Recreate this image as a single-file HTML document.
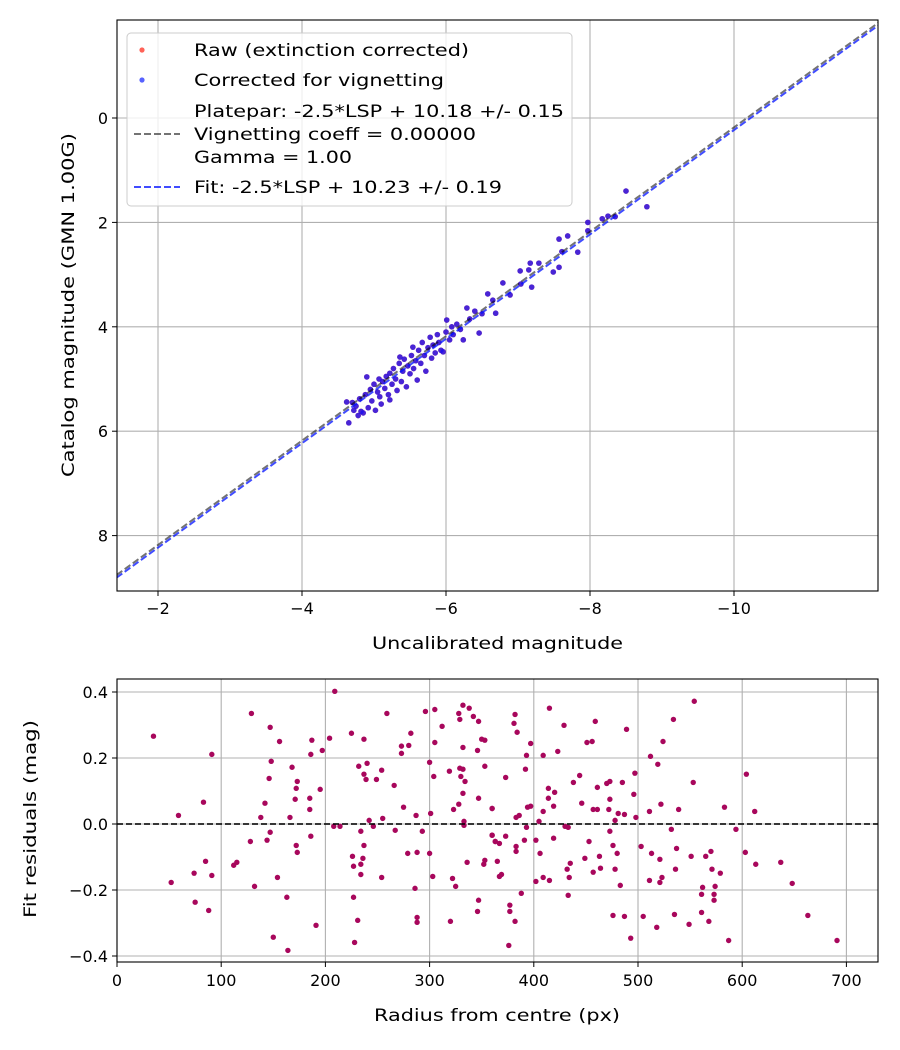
<!DOCTYPE html>
<html><head><meta charset="utf-8"><style>
body{margin:0;background:#fff}
svg{display:block;font-family:"DejaVu Sans","Liberation Sans",sans-serif}
</style></head><body>
<svg id="fig" width="900" height="1050" xmlns="http://www.w3.org/2000/svg">
<rect width="900" height="1050" fill="#fff"/>
<g id="top"></g>
<g id="bot"></g>
</svg>
<script>
const topX=[-4.62,-4.65,-4.70,-4.72,-4.75,-4.78,-4.80,-4.82,-4.85,-4.88,-4.90,-4.92,-4.95,-4.97,-5.00,-5.02,-5.05,-5.07,-5.08,-5.10,-5.12,-5.15,-5.17,-5.20,-5.22,-5.22,-5.25,-5.27,-5.30,-5.32,-5.35,-5.36,-5.38,-5.40,-5.42,-5.45,-5.47,-5.50,-5.52,-5.54,-5.55,-5.58,-5.60,-5.62,-5.65,-5.67,-5.70,-5.72,-5.75,-5.78,-5.80,-5.82,-5.85,-5.88,-5.90,-5.93,-5.96,-6.00,-6.01,-6.05,-6.08,-6.10,-6.15,-6.20,-6.24,-6.29,-6.33,-6.40,-6.46,-6.50,-6.58,-6.65,-6.69,-6.79,-6.89,-7.03,-7.04,-7.15,-7.17,-7.19,-7.29,-7.49,-7.57,-7.57,-7.61,-7.69,-7.83,-7.97,-7.97,-8.17,-8.25,-8.35,-8.50,-8.79];
const topY=[5.44,5.84,5.45,5.60,5.52,5.70,5.38,5.62,5.65,5.30,4.96,5.55,5.20,5.42,5.10,5.60,5.25,5.00,5.34,5.48,5.05,5.18,4.95,5.30,4.89,5.40,5.10,4.80,5.00,5.22,4.70,4.58,5.05,4.85,4.62,5.15,4.75,4.90,4.55,4.39,4.80,4.65,5.02,4.45,4.70,4.30,4.55,4.85,4.40,4.20,4.60,4.35,4.50,4.15,4.30,4.45,4.48,4.10,3.87,4.25,4.00,4.15,3.95,4.05,4.25,3.64,3.85,3.70,4.12,3.75,3.37,3.49,3.74,3.16,3.39,2.93,3.18,2.91,2.78,3.24,2.78,2.95,2.32,2.86,2.56,2.26,2.57,2.00,2.16,1.93,1.88,1.89,1.40,1.70];
const topXTicks=[-2,-4,-6,-8,-10];
const topYTicks=[0,2,4,6,8];
const plateparZP=10.18, fitZP=10.23;
const resR=[35,91,129,147,156,209,187,186,197,204,225,237,259,296,305,312,305,282,273,280,273,332,338,328,329,342,347,350,353,332,346,148,168,146,173,172,171,185,185,195,142,138,166,83,59,232,240,237,239,249,254,266,275,287,242,255,300,304,319,329,332,330,334,332,328,323,347,353,360,301,333,333,208,214,246,147,144,128,186,172,173,234,237,267,293,360,363,85,74,91,52,112,115,154,132,226,227,234,236,234,254,279,288,300,303,322,325,336,352,353,286,75,88,163,227,191,231,288,288,320,347,346,150,164,228,
382,381,384,415,397,393,409,423,429,459,451,456,489,534,554,524,512,519,373,392,438,444,414,420,414,419,409,394,397,360,383,386,405,461,470,473,485,473,446,457,461,472,481,487,478,496,497,498,511,522,539,553,583,604,612,393,430,433,532,594,473,360,373,363,367,391,402,419,383,383,406,453,476,480,463,449,503,513,521,537,551,565,570,603,613,637,365,367,369,435,432,434,409,402,415,457,464,478,483,511,521,523,536,571,579,562,574,561,573,573,648,388,433,377,377,382,376,476,487,505,518,535,549,561,568,493,587,663,691];
const resV=[.266,.211,.335,.293,.250,.402,.254,.211,.223,.260,.275,.257,.335,.341,.347,.296,.247,.275,.236,.238,.214,.360,.351,.335,.317,.326,.311,.257,.254,.232,.223,.190,.172,.138,.129,.108,.075,.078,.044,.105,.063,.020,.020,.066,.026,.175,.184,.151,.135,.135,.163,.117,.051,.026,.011,.017,.187,.144,.160,.169,.166,.144,.129,.093,.060,.044,.078,.175,.047,.032,.008,-.004,-.007,-.007,-.007,-.025,-.049,-.053,-.037,-.065,-.086,-.022,-.065,-.019,-.022,-.034,-.053,-.113,-.149,-.156,-.177,-.125,-.116,-.162,-.189,-.098,-.128,-.122,-.104,-.153,-.162,-.089,-.086,-.089,-.159,-.165,-.189,-.116,-.122,-.110,-.195,-.237,-.262,-.222,-.222,-.307,-.292,-.283,-.298,-.295,-.231,-.265,-.343,-.383,-.359,
.332,.305,.278,.351,.244,.208,.208,.220,.299,.311,.247,.250,.287,.317,.372,.250,.205,.181,.141,.166,.126,.147,.108,.096,.078,.054,.038,.051,.054,.047,.020,.026,.008,.111,.123,.129,.126,.075,.063,.044,.044,.044,.032,.029,.011,.090,.154,.020,.038,.060,.044,.126,.051,.151,.038,-.010,-.007,-.010,-.016,-.016,-.022,-.034,-.037,-.053,-.059,-.049,-.049,-.043,-.068,-.083,-.089,-.053,-.065,-.089,-.098,-.104,-.068,-.089,-.107,-.074,-.098,-.098,-.083,-.086,-.122,-.116,-.113,-.159,-.153,-.119,-.137,-.162,-.162,-.174,-.171,-.146,-.134,-.137,-.186,-.171,-.177,-.162,-.137,-.137,-.149,-.192,-.189,-.213,-.213,-.231,-.180,-.210,-.216,-.246,-.265,-.295,-.368,-.277,-.280,-.280,-.313,-.274,-.304,-.268,-.295,-.346,-.353,-.277,-.353];
const botXTicks=[0,100,200,300,400,500,600,700];
const botYTicks=[0.4,0.2,0.0,-0.2,-0.4];

const NS="http://www.w3.org/2000/svg";
function mk(parent,tag,attrs,name){const e=document.createElementNS(NS,tag);for(const k in attrs)e.setAttribute(k,attrs[k]);


parent.appendChild(e);return e;}
function fmt(v){return (v<0?'\u2212':'')+Math.abs(v);}
function label(parent,x,y,s,w,name,extra){const a={x:x,y:y,'font-size':17,textLength:w,lengthAdjust:'spacingAndGlyphs'};for(const k in (extra||{}))a[k]=extra[k];const t=mk(parent,'text',a,name);t.textContent=s;return t;}

const T={l:117,r:878,t:20,b:591};
const tx=v=>14-72*v;
const ty=v=>118+52.2*v;
const g=document.getElementById('top');
topXTicks.forEach(v=>{mk(g,'line',{x1:tx(v),x2:tx(v),y1:T.t,y2:T.b,stroke:'#b0b0b0','stroke-width':1.1},'x-gridline');
mk(g,'line',{x1:tx(v),x2:tx(v),y1:T.b,y2:T.b+5,stroke:'#000'},'x-tick');
const t=mk(g,'text',{x:tx(v),y:T.b+23,'text-anchor':'middle','font-size':16},'x-tick-label');t.textContent=fmt(v);});
topYTicks.forEach(v=>{mk(g,'line',{x1:T.l,x2:T.r,y1:ty(v),y2:ty(v),stroke:'#b0b0b0','stroke-width':1.1},'y-gridline');
mk(g,'line',{x1:T.l-5,x2:T.l,y1:ty(v),y2:ty(v),stroke:'#000'},'y-tick');
const t=mk(g,'text',{x:T.l-9,y:ty(v)+6,'text-anchor':'end','font-size':16},'y-tick-label');t.textContent=fmt(v);});
const clip=mk(g,'clipPath',{id:'tc'},'clip');mk(clip,'rect',{x:T.l,y:T.t,width:T.r-T.l,height:T.b-T.t},'clip-rect');
const pg=mk(g,'g',{'clip-path':'url(#tc)'},'plot-area');
topX.forEach((x,i)=>mk(pg,'circle',{cx:tx(x),cy:ty(topY[i]),r:2.8,fill:'#ff2010','fill-opacity':0.6},'raw-point'));
topX.forEach((x,i)=>mk(pg,'circle',{cx:tx(x),cy:ty(topY[i]),r:2.8,fill:'#1a10f0','fill-opacity':0.8},'corrected-point'));
const xa=-1.2,xb=-12.2;
mk(pg,'line',{x1:tx(xa),y1:ty(xa+plateparZP),x2:tx(xb),y2:ty(xb+plateparZP),stroke:'#000','stroke-opacity':0.55,'stroke-width':2,'stroke-dasharray':'7,3'},'platepar-line');
mk(pg,'line',{x1:tx(xa),y1:ty(xa+fitZP),x2:tx(xb),y2:ty(xb+fitZP),stroke:'#0010ff','stroke-opacity':0.75,'stroke-width':2,'stroke-dasharray':'7,3'},'fit-line');
mk(g,'rect',{x:T.l,y:T.t,width:T.r-T.l,height:T.b-T.t,fill:'none',stroke:'#000','stroke-width':1.1},'axes-frame');
label(g,372,649,'Uncalibrated magnitude',251,'x-axis-title');
label(g,0,0,'Catalog magnitude (GMN 1.00G)',344,'y-axis-title',{transform:'translate(74,477) rotate(-90)'});
const L=mk(g,'g',{},'legend');
mk(L,'rect',{x:127,y:33,width:445,height:173,rx:4,fill:'#fff','fill-opacity':0.8,stroke:'#ccc'},'legend-frame');
mk(L,'circle',{cx:142,cy:50,r:2.6,fill:'#ff2010','fill-opacity':0.7},'legend-raw-marker');
label(L,194,56,'Raw (extinction corrected)',275,'legend-raw-label');
mk(L,'circle',{cx:142,cy:80,r:2.6,fill:'#1020ff','fill-opacity':0.7},'legend-corrected-marker');
label(L,194,86,'Corrected for vignetting',250,'legend-corrected-label');
mk(L,'line',{x1:134,x2:180,y1:134,y2:134,stroke:'#000','stroke-opacity':0.55,'stroke-width':2,'stroke-dasharray':'7,3'},'legend-platepar-line');
label(L,194,117,'Platepar: -2.5*LSP + 10.18 +/- 0.15',370,'legend-platepar-label');
label(L,194,140,'Vignetting coeff = 0.00000',282,'legend-vignetting-label');
label(L,194,163,'Gamma = 1.00',158,'legend-gamma-label');
mk(L,'line',{x1:134,x2:180,y1:187,y2:187,stroke:'#0010ff','stroke-opacity':0.75,'stroke-width':2,'stroke-dasharray':'7,3'},'legend-fit-line');
label(L,194,193,'Fit: -2.5*LSP + 10.23 +/- 0.19',308,'legend-fit-label');

const B={l:117,r:878,t:679,b:962};
const bx=v=>117+1.042*v;
const by=v=>824-330*v;
const h=document.getElementById('bot');
botXTicks.forEach(v=>{mk(h,'line',{x1:bx(v),x2:bx(v),y1:B.t,y2:B.b,stroke:'#b0b0b0','stroke-width':1.1},'x-gridline');
mk(h,'line',{x1:bx(v),x2:bx(v),y1:B.b,y2:B.b+5,stroke:'#000'},'x-tick');
const t=mk(h,'text',{x:bx(v),y:B.b+24,'text-anchor':'middle','font-size':16},'x-tick-label');t.textContent=v;});
botYTicks.forEach(v=>{mk(h,'line',{x1:B.l,x2:B.r,y1:by(v),y2:by(v),stroke:'#b0b0b0','stroke-width':1.1},'y-gridline');
mk(h,'line',{x1:B.l-5,x2:B.l,y1:by(v),y2:by(v),stroke:'#000'},'y-tick');
const t=mk(h,'text',{x:B.l-9,y:by(v)+6,'text-anchor':'end','font-size':16},'y-tick-label');t.textContent=(v<0?'\u2212':'')+Math.abs(v).toFixed(1);});
resR.forEach((r,i)=>mk(h,'circle',{cx:bx(r),cy:by(resV[i]),r:2.7,fill:'#a8075c'},'residual-point'));
mk(h,'line',{x1:B.l,x2:B.r,y1:by(0),y2:by(0),stroke:'#000','stroke-opacity':0.75,'stroke-width':2,'stroke-dasharray':'6,3'},'zero-line');
mk(h,'rect',{x:B.l,y:B.t,width:B.r-B.l,height:B.b-B.t,fill:'none',stroke:'#000','stroke-width':1.1},'axes-frame');
label(h,374,1021,'Radius from centre (px)',246,'x-axis-title');
label(h,0,0,'Fit residuals (mag)',198,'y-axis-title',{transform:'translate(36,918) rotate(-90)'});
</script>
</body></html>
